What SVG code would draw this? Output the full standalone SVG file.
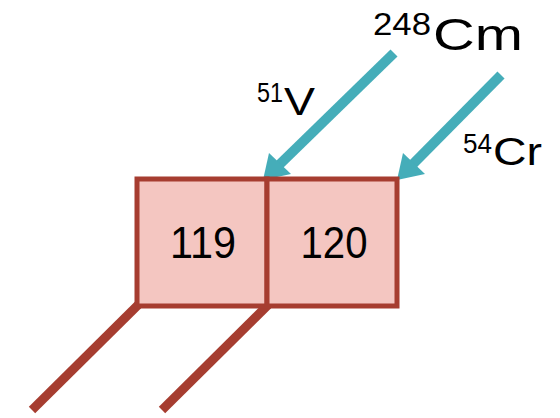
<svg xmlns="http://www.w3.org/2000/svg" width="560" height="418" viewBox="0 0 560 418">
  <defs>
    <style>
      .box { fill: #f4c6c1; stroke: #a63d30; stroke-width: 5; }
      .tail { stroke: #a63d30; stroke-width: 9; fill: none; }
      .beam { stroke: #45adb9; stroke-width: 10; fill: none; }
      .head { fill: #45adb9; }
      text { font-family: "Liberation Sans", Arial, sans-serif; fill: #000; }
      .num { font-size: 44px; text-anchor: middle; }
    </style>
  </defs>

  <g id="connectors">
    <!-- decay tails leaving the lower-left corners -->
    <line class="tail" x1="138" y1="305" x2="32" y2="410"/>
    <line class="tail" x1="268" y1="305" x2="162" y2="410"/>
    <!-- incoming beams -->
    <line class="beam" x1="394" y1="53" x2="279" y2="165"/>
    <polygon class="head" points="263,180 269,153 291,174"/>
    <line class="beam" x1="501" y1="75" x2="413" y2="164"/>
    <polygon class="head" points="397,180 403,153 425,174"/>
  </g>

  <g id="e119">
    <rect class="box" x="137" y="179" width="130" height="127"/>
    <text class="num" x="203" y="258" textLength="66" lengthAdjust="spacingAndGlyphs">119</text>
  </g>
  <g id="e120">
    <rect class="box" x="267" y="179" width="130" height="127"/>
    <text class="num" x="334" y="258" textLength="67" lengthAdjust="spacingAndGlyphs">120</text>
  </g>

  <g id="labels">
    <text x="373" y="35" font-size="31" textLength="58" lengthAdjust="spacingAndGlyphs">248</text>
    <text x="433" y="50" font-size="44" textLength="90" lengthAdjust="spacingAndGlyphs">Cm</text>
    <text x="257" y="102" font-size="27" textLength="26" lengthAdjust="spacingAndGlyphs">51</text>
    <text x="284" y="115" font-size="38" textLength="31" lengthAdjust="spacingAndGlyphs">V</text>
    <text x="463" y="153" font-size="27" textLength="29" lengthAdjust="spacingAndGlyphs">54</text>
    <text x="493" y="165" font-size="38" textLength="49" lengthAdjust="spacingAndGlyphs">Cr</text>
  </g>
</svg>
